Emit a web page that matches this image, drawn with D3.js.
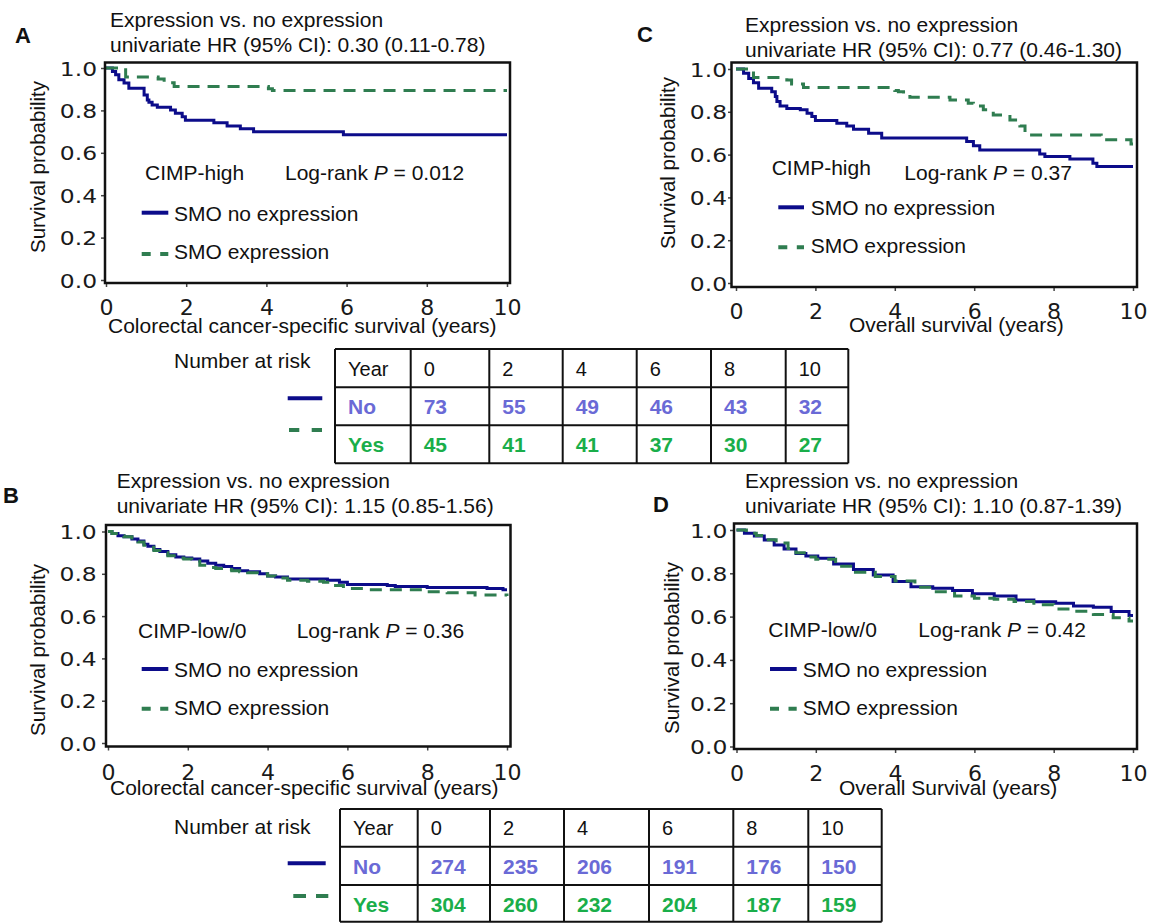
<!DOCTYPE html>
<html><head><meta charset="utf-8">
<script src="https://cdn.jsdelivr.net/npm/d3@7"></script>
<style>html,body{margin:0;padding:0;background:#fff;} svg{display:block;}</style>
</head><body>
<svg id="c" width="1157" height="923"></svg>
<script>
// ---------------- data ----------------
const xTickVals = [0, 2, 4, 6, 8, 10];
const yTickVals = [0, 0.2, 0.4, 0.6, 0.8, 1.0];
const riskYears = [0, 2, 4, 6, 8, 10];
const riskHighNo  = [73, 55, 49, 46, 43, 32];
const riskHighYes = [45, 41, 41, 37, 30, 27];
const riskLowNo   = [274, 235, 206, 191, 176, 150];
const riskLowYes  = [304, 260, 232, 204, 187, 159];

// Panel A: CIMP-high, colorectal cancer-specific survival
const aNoT  = [0,0.16,0.24,0.32,0.45,0.57,0.95,1.03,1.07,1.15,1.28,1.61,1.73,1.9,1.98,2.69,3.02,3.35,3.68,5.92,10];
const aNoS  = [1,0.984,0.968,0.945,0.929,0.905,0.873,0.849,0.838,0.826,0.815,0.802,0.786,0.770,0.754,0.742,0.726,0.713,0.699,0.685,0.685];
const aYesT = [0,0.49,1.3,1.45,1.7,4.05,4.15,10];
const aYesS = [1,0.957,0.948,0.93,0.913,0.902,0.894,0.894];

// Panel C: CIMP-high, overall survival
const cNoT  = [0,0.19,0.32,0.44,0.57,0.9,0.99,1.03,1.11,1.28,1.62,1.79,1.91,2.0,2.54,2.79,2.96,3.34,3.67,5.81,5.98,6.14,7.65,7.78,8.41,8.99,9.09,10];
const cNoS  = [1,0.98,0.956,0.936,0.91,0.894,0.871,0.848,0.827,0.816,0.809,0.793,0.778,0.759,0.746,0.734,0.718,0.70,0.677,0.661,0.641,0.622,0.603,0.591,0.579,0.56,0.544,0.544];
const cYesT = [0,0.44,1.28,1.4,1.7,4.0,4.09,4.22,4.38,5.39,5.85,5.98,6.23,6.48,6.9,7.15,7.28,9.2,9.95,10];
const cYesS = [1,0.96,0.949,0.93,0.914,0.90,0.894,0.879,0.868,0.855,0.84,0.827,0.809,0.785,0.762,0.734,0.692,0.669,0.65,0.65];

// Panel B: CIMP-low/0, colorectal cancer-specific survival
const bNoT  = [0,0.1,0.25,0.4,0.6,0.75,0.9,1.0,1.15,1.3,1.5,1.7,1.9,2.1,2.3,2.5,2.7,2.9,3.1,3.3,3.5,3.8,4.0,4.2,4.5,5.0,5.5,5.8,6.0,7.0,7.2,8.0,9.5,9.9,10];
const bNoS  = [1.0,0.99,0.98,0.975,0.965,0.955,0.94,0.93,0.915,0.905,0.89,0.88,0.875,0.87,0.86,0.85,0.84,0.835,0.825,0.815,0.81,0.80,0.79,0.785,0.775,0.775,0.77,0.76,0.75,0.745,0.74,0.735,0.73,0.725,0.725];
const bYesT = [0,0.1,0.25,0.4,0.6,0.75,0.9,1.0,1.15,1.3,1.5,1.7,1.9,2.1,2.3,2.5,2.7,2.9,3.1,3.3,3.5,3.8,4.0,4.2,4.5,5.0,5.4,5.6,5.9,6.5,7.0,8.0,8.5,9.2,10];
const bYesS = [1.0,0.99,0.98,0.975,0.96,0.95,0.935,0.925,0.91,0.9,0.885,0.875,0.87,0.86,0.84,0.83,0.825,0.82,0.815,0.81,0.805,0.80,0.79,0.78,0.77,0.765,0.76,0.745,0.73,0.725,0.725,0.715,0.71,0.70,0.695];

// Panel D: CIMP-low/0, overall survival
const dNoT  = [0,0.2,0.45,0.7,0.95,1.2,1.5,1.75,2.05,2.45,2.95,3.45,3.95,4.4,4.95,5.45,5.95,6.5,7.05,7.5,8.05,8.5,9.0,9.45,9.9,10];
const dNoS  = [1,0.985,0.972,0.954,0.931,0.912,0.892,0.88,0.869,0.843,0.818,0.792,0.762,0.738,0.731,0.72,0.705,0.695,0.677,0.669,0.662,0.649,0.643,0.623,0.605,0.605];
const dYesT = [0,0.25,0.5,0.8,1.0,1.3,1.5,1.8,2.0,2.5,3.0,3.5,4.0,4.5,5.0,5.5,6.0,6.5,7.0,7.5,8.0,8.5,9.0,9.5,9.9,10];
const dYesS = [1,0.985,0.975,0.955,0.94,0.915,0.895,0.875,0.865,0.832,0.805,0.785,0.765,0.735,0.715,0.695,0.685,0.68,0.67,0.655,0.635,0.625,0.61,0.595,0.58,0.58];

// ---------------- layout ----------------
const SANS = '"Liberation Sans", Arial, Helvetica, sans-serif';
const TICKF = '"DejaVu Sans", Verdana, sans-serif';
const BLUE = '#0c0c8a', GREEN = '#2f7d50', NOCOL = '#6a6ad6', YESCOL = '#1aae4a';

const panels = [
  { letter:'A', letterPos:[15,43], titleX:110, titleY:[26.7,52.3], hr:'0.30 (0.11-0.78)',
    box:[105,510,62.5,283], xr:[106,507], yr:[280,68], yLabRight:97, xTickBase:315,
    yTitle:[38,167], xTitle:'Colorectal cancer-specific survival (years)', xTitlePos:[108,333],
    group:'CIMP-high', groupPos:[145,180], logP:'0.012', logPos:[285,180],
    legX:[141.7,168.3], legY:[212.7,254], legTX:174, legTY:[221,259],
    noT:aNoT, noS:aNoS, yesT:aYesT, yesS:aYesS },
  { letter:'C', letterPos:[637,42], titleX:745, titleY:[31.7,56.7], hr:'0.77 (0.46-1.30)',
    box:[731.5,1137,62.5,287], xr:[736,1133], yr:[283,69], yLabRight:727, xTickBase:318.5,
    yTitle:[668,163], xTitle:'Overall survival (years)', xTitlePos:[849,332],
    group:'CIMP-high', groupPos:[771.7,175], logP:'0.37', logPos:[904.3,180],
    legX:[778.3,804], legY:[207.3,247.3], legTX:810.7, legTY:[215,253.3],
    noT:cNoT, noS:cNoS, yesT:cYesT, yesS:cYesS },
  { letter:'B', letterPos:[3,503], titleX:116.7, titleY:[488.3,513.3], hr:'1.15 (0.85-1.56)',
    box:[106,510.5,525,746.5], xr:[108,507], yr:[743,531.5], yLabRight:96.7, xTickBase:779.5,
    yTitle:[38,650], xTitle:'Colorectal cancer-specific survival (years)', xTitlePos:[110,795],
    group:'CIMP-low/0', groupPos:[138,638], logP:'0.36', logPos:[296.7,638],
    legX:[141.7,168.3], legY:[669,708.7], legTX:174, legTY:[676.7,715],
    noT:bNoT, noS:bNoS, yesT:bYesT, yesS:bYesS },
  { letter:'D', letterPos:[653,511.7], titleX:745, titleY:[488.3,513.3], hr:'1.10 (0.87-1.39)',
    box:[734,1137,523.5,749], xr:[736.5,1133], yr:[746.5,530], yLabRight:727.3, xTickBase:781,
    yTitle:[671.7,648], xTitle:'Overall Survival (years)', xTitlePos:[839,795],
    group:'CIMP-low/0', groupPos:[768.3,636.7], logP:'0.42', logPos:[918.3,636.7],
    legX:[770,796.7], legY:[669,708.7], legTX:802.7, legTY:[676.7,715],
    noT:dNoT, noS:dNoS, yesT:dYesT, yesS:dYesS }
];

const tables = [
  { xs:[335,410.7,489.3,562.7,636.7,711,785.7,848.3], ys:[349,387.3,425.3,463.3], base:[376,414,451.7],
    no:riskHighNo, yes:riskHighYes, nar:[174,368],
    blue:[287.7,322.3,398.3], green:[289,323.3,430], dash:'10.3,12.4' },
  { xs:[340,417.7,490,564,649,733.3,808.3,881.7], ys:[809,846.7,885,921.7], base:[835,874,911.7],
    no:riskLowNo, yes:riskLowYes, nar:[174,834],
    blue:[287.7,325.7,863.3], green:[293.3,328.3,896], dash:'12.7,10' }
];

// ---------------- drawing ----------------
const svg = d3.select('#c');

function txt(g, x, y, s, size, opts={}) {
  return g.append('text').attr('x', x).attr('y', y).text(s)
    .style('font-family', opts.family || SANS).style('font-size', size + 'px')
    .style('font-weight', opts.weight || 'normal').attr('fill', opts.fill || '#111')
    .attr('text-anchor', opts.anchor || 'start');
}

panels.forEach(p => {
  const g = svg.append('g');
  const x = d3.scaleLinear().domain([0, 10]).range(p.xr);
  const y = d3.scaleLinear().domain([0, 1]).range(p.yr);

  // x axis ticks
  const ax = g.append('g').attr('transform', `translate(0,${p.box[3]})`)
    .call(d3.axisBottom(x).tickValues(xTickVals).tickSize(4).tickFormat(d3.format('d')));
  ax.select('.domain').remove();
  ax.selectAll('line').attr('stroke', '#444').attr('stroke-width', 1.5);
  ax.selectAll('text').attr('x', 0).attr('y', 0).attr('dy', null)
    .attr('transform', `translate(0,${p.xTickBase - p.box[3]}) scale(1.05,1)`)
    .style('font-family', TICKF).style('font-size', '21px').attr('fill', '#1a1a1a');

  // y axis ticks
  const pad = p.box[0] - p.yLabRight;
  const tl = Math.min(4, pad - 1);
  const ay = g.append('g').attr('transform', `translate(${p.box[0]},0)`)
    .call(d3.axisLeft(y).tickValues(yTickVals).tickSize(tl).tickFormat(d3.format('.1f')));
  ay.select('.domain').remove();
  ay.selectAll('line').attr('stroke', '#444').attr('stroke-width', 1.5);
  ay.selectAll('text').attr('x', 0).attr('dy', '0.36em')
    .attr('transform', `translate(${-pad},0) scale(1.2,1)`)
    .style('font-family', TICKF).style('font-size', '19.5px').attr('fill', '#1a1a1a');

  // curves
  const line = d3.line().x(d => x(d[0])).y(d => y(d[1])).curve(d3.curveStepAfter);
  g.append('path').datum(d3.zip(p.noT, p.noS)).attr('d', line)
    .attr('fill', 'none').attr('stroke', BLUE).attr('stroke-width', 3);
  g.append('path').datum(d3.zip(p.yesT, p.yesS)).attr('d', line)
    .attr('fill', 'none').attr('stroke', GREEN).attr('stroke-width', 3).attr('stroke-dasharray', '12,8');

  // frame
  g.append('rect').attr('x', p.box[0]).attr('y', p.box[2])
    .attr('width', p.box[1] - p.box[0]).attr('height', p.box[3] - p.box[2])
    .attr('fill', 'none').attr('stroke', '#111').attr('stroke-width', 2.5);

  // texts
  txt(g, p.letterPos[0], p.letterPos[1], p.letter, 22, {weight:'bold'});
  txt(g, p.titleX, p.titleY[0], 'Expression vs. no expression', 21);
  txt(g, p.titleX, p.titleY[1], 'univariate HR (95% CI): ' + p.hr, 21);
  g.append('text').attr('transform', `translate(${p.yTitle[0]},${p.yTitle[1]}) rotate(-90)`)
    .attr('text-anchor', 'middle').attr('dy', '0.35em').text('Survival probability')
    .style('font-family', SANS).style('font-size', '20.5px').attr('fill', '#111');
  txt(g, p.xTitlePos[0], p.xTitlePos[1], p.xTitle, 21);
  txt(g, p.groupPos[0], p.groupPos[1], p.group, 21);
  const lr = txt(g, p.logPos[0], p.logPos[1], '', 21);
  lr.append('tspan').text('Log-rank ');
  lr.append('tspan').text('P').style('font-style', 'italic');
  lr.append('tspan').text(' = ' + p.logP);

  // legend
  g.append('line').attr('x1', p.legX[0]).attr('x2', p.legX[1]).attr('y1', p.legY[0]).attr('y2', p.legY[0])
    .attr('stroke', BLUE).attr('stroke-width', 4);
  g.append('line').attr('x1', p.legX[0]).attr('x2', p.legX[1]).attr('y1', p.legY[1]).attr('y2', p.legY[1])
    .attr('stroke', GREEN).attr('stroke-width', 4).attr('stroke-dasharray', '9,9.5');
  txt(g, p.legTX, p.legTY[0], 'SMO no expression', 21);
  txt(g, p.legTX, p.legTY[1], 'SMO expression', 21);
});

tables.forEach(t => {
  const g = svg.append('g');
  const cols = ['label', ...riskYears];
  const colX = d3.scaleOrdinal().domain(cols).range(t.xs.slice(0, 7));
  const rows = ['head', 'no', 'yes'];
  const rowY = d3.scaleOrdinal().domain(rows).range(t.base);

  t.xs.forEach(xv => g.append('line').attr('x1', xv).attr('x2', xv).attr('y1', t.ys[0]).attr('y2', t.ys[3])
    .attr('stroke', '#111').attr('stroke-width', 2));
  t.ys.forEach(yv => g.append('line').attr('x1', t.xs[0]).attr('x2', t.xs[7]).attr('y1', yv).attr('y2', yv)
    .attr('stroke', '#111').attr('stroke-width', 2));

  const padL = 13;
  txt(g, colX('label') + padL, rowY('head'), 'Year', 20);
  riskYears.forEach(yr => txt(g, colX(yr) + padL, rowY('head'), String(yr), 20));
  txt(g, colX('label') + padL, rowY('no'), 'No', 21, {weight:'bold', fill:NOCOL});
  txt(g, colX('label') + padL, rowY('yes'), 'Yes', 21, {weight:'bold', fill:YESCOL});
  riskYears.forEach((yr, i) => {
    txt(g, colX(yr) + padL, rowY('no'), String(t.no[i]), 21, {weight:'bold', fill:NOCOL});
    txt(g, colX(yr) + padL, rowY('yes'), String(t.yes[i]), 21, {weight:'bold', fill:YESCOL});
  });

  txt(g, t.nar[0], t.nar[1], 'Number at risk', 21);
  g.append('line').attr('x1', t.blue[0]).attr('x2', t.blue[1]).attr('y1', t.blue[2]).attr('y2', t.blue[2])
    .attr('stroke', BLUE).attr('stroke-width', 4);
  g.append('line').attr('x1', t.green[0]).attr('x2', t.green[1]).attr('y1', t.green[2]).attr('y2', t.green[2])
    .attr('stroke', GREEN).attr('stroke-width', 4).attr('stroke-dasharray', t.dash);
});
</script>
</body></html>
